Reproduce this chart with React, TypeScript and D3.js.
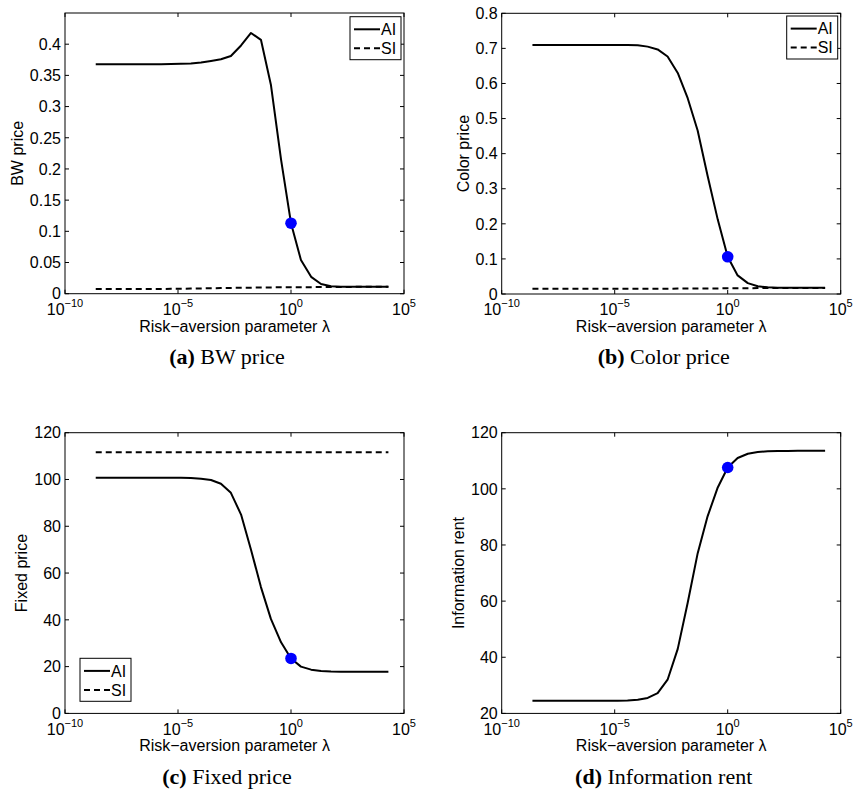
import React from 'react'
import * as d3 from 'd3'

// lambda grid, as log10 exponents
const lambdaExp = [-8.64, -8.41, -7.97, -7.52, -7.08, -6.64, -6.20, -5.75, -5.31, -4.87, -4.43, -3.98, -3.54, -3.10, -2.66, -2.21, -1.77, -1.33, -0.89, -0.44, 0, 0.44, 0.89, 1.33, 1.77, 2.21, 2.66, 3.10, 3.54, 3.98, 4.31]

const bwAI = [0.368, 0.368, 0.368, 0.368, 0.368, 0.368, 0.368, 0.368, 0.3682, 0.3685, 0.369, 0.3705, 0.373, 0.3758, 0.381, 0.398, 0.418, 0.407, 0.335, 0.215, 0.113, 0.054, 0.027, 0.0155, 0.012, 0.0112, 0.011, 0.011, 0.011, 0.011, 0.011]
const bwSI = [0.0075, 0.0075, 0.0075, 0.0075, 0.0075, 0.0075, 0.0075, 0.0075, 0.0078, 0.008, 0.0082, 0.0085, 0.0088, 0.009, 0.0093, 0.0095, 0.0097, 0.0099, 0.0101, 0.0102, 0.0103, 0.0104, 0.0105, 0.0106, 0.0107, 0.0108, 0.0109, 0.011, 0.011, 0.011, 0.011]

const colorAI = [0.71, 0.71, 0.71, 0.71, 0.71, 0.71, 0.71, 0.71, 0.71, 0.71, 0.71, 0.709, 0.705, 0.697, 0.677, 0.63, 0.558, 0.466, 0.337, 0.212, 0.106, 0.053, 0.031, 0.022, 0.019, 0.018, 0.018, 0.018, 0.018, 0.018, 0.018]
const colorSI = [0.015, 0.015, 0.015, 0.015, 0.015, 0.015, 0.015, 0.015, 0.015, 0.015, 0.015, 0.015, 0.015, 0.015, 0.0152, 0.0154, 0.0156, 0.0158, 0.016, 0.016, 0.0162, 0.0164, 0.0166, 0.0168, 0.017, 0.017, 0.017, 0.017, 0.017, 0.017, 0.017]

const fixedAI = [100.7, 100.7, 100.7, 100.7, 100.7, 100.7, 100.7, 100.7, 100.7, 100.7, 100.6, 100.3, 99.8, 98.2, 94.3, 85, 70, 54, 40.4, 30.4, 23.5, 20.0, 18.7, 18.1, 17.9, 17.8, 17.8, 17.8, 17.8, 17.8, 17.8]
const fixedSI = [111.6, 111.6, 111.6, 111.6, 111.6, 111.6, 111.6, 111.6, 111.6, 111.6, 111.6, 111.6, 111.6, 111.6, 111.6, 111.6, 111.6, 111.6, 111.6, 111.6, 111.6, 111.6, 111.6, 111.6, 111.6, 111.6, 111.6, 111.6, 111.6, 111.6, 111.6]

const rentAI = [24.5, 24.5, 24.5, 24.5, 24.5, 24.5, 24.5, 24.5, 24.5, 24.5, 24.6, 24.9, 25.5, 27.2, 32, 43, 59.4, 77, 90.2, 100.5, 107.6, 111, 112.5, 113.1, 113.4, 113.5, 113.5, 113.6, 113.6, 113.6, 113.6]

// blue marker at lambda = 1
const markerLambda = 1
const markerValues = [0.113, 0.106, 23.5, 107.6]

const xTickExp = [-10, -5, 0, 5]
const bwTicks = [0, 0.05, 0.1, 0.15, 0.2, 0.25, 0.3, 0.35, 0.4]
const colorTicks = [0, 0.1, 0.2, 0.3, 0.4, 0.5, 0.6, 0.7, 0.8]
const fixedTicks = [0, 20, 40, 60, 80, 100, 120]
const rentTicks = [20, 40, 60, 80, 100, 120]

const sans = '"Liberation Sans", Arial, sans-serif'
const serif = '"Liberation Serif", "Times New Roman", serif'

const PW = 339
const PH = 280.7

const Panel = (props) => {
    const x = d3.scaleLog().domain([1e-10, 1e5]).range([0, PW])
    const y = d3.scaleLinear().domain(props.yDomain).range([PH, 0])
    const lam = lambdaExp.map(e => Math.pow(10, e))

    const linea = d3.line()
        .x(d => x(d[0]))
        .y(d => y(d[1]))

    const fmt = v => String(+v.toFixed(2))

    return (
        <g transform={`translate(${props.left},${props.top})`}>
            {/* series */}
            {props.si && (
                <path d={linea(props.si.map((v, i) => [lam[i], v]))} fill="none" stroke="#000" strokeWidth={2} strokeDasharray="6,4" />
            )}
            <path d={linea(props.ai.map((v, i) => [lam[i], v]))} fill="none" stroke="#000" strokeWidth={2} strokeLinejoin="round" />
            <circle cx={x(markerLambda)} cy={y(props.dot)} r={5.8} fill="#0000ff" />

            {/* box */}
            <rect x={0} y={0} width={PW} height={PH} fill="none" stroke="#000" strokeWidth={1} />

            {xTickExp.map(e => (
                <g key={'x' + e}>
                    <line x1={x(Math.pow(10, e))} x2={x(Math.pow(10, e))} y1={PH} y2={PH - 4} stroke="#000" />
                    <line x1={x(Math.pow(10, e))} x2={x(Math.pow(10, e))} y1={0} y2={4} stroke="#000" />
                    <text x={x(Math.pow(10, e))} y={PH + 21.5} textAnchor="middle" fontFamily={sans} fontSize={16}>
                        10<tspan dy={-8} fontSize={11}>{e < 0 ? '\u2212' + (-e) : e}</tspan>
                    </text>
                </g>
            ))}

            {props.yTicks.map(t => (
                <g key={'y' + t}>
                    <line x1={0} x2={4} y1={y(t)} y2={y(t)} stroke="#000" />
                    <line x1={PW} x2={PW - 4} y1={y(t)} y2={y(t)} stroke="#000" />
                    <text x={-4} y={y(t)} dy="0.36em" textAnchor="end" fontFamily={sans} fontSize={16}>{fmt(t)}</text>
                </g>
            ))}

            <text x={PW / 2} y={PH + 38} textAnchor="middle" fontFamily={sans} fontSize={16}>
                Risk{'\u2212'}aversion parameter {'\u03bb'}
            </text>
            <text transform={`translate(${props.yLabelX},${PH / 2}) rotate(-90)`} textAnchor="middle" fontFamily={sans} fontSize={16}>
                {props.yLabel}
            </text>

            {props.legend && (
                <g transform={`translate(${props.legend[0]},${props.legend[1]})`}>
                    <rect x={0} y={0} width={51} height={43} fill="#fff" stroke="#000" strokeWidth={1} />
                    <line x1={4} x2={30} y1={12.6} y2={12.6} stroke="#000" strokeWidth={2} />
                    <text x={31} y={12.6} dy="0.36em" fontFamily={sans} fontSize={16}>AI</text>
                    <line x1={4} x2={30} y1={31.6} y2={31.6} stroke="#000" strokeWidth={2} strokeDasharray="6,4" />
                    <text x={31} y={31.6} dy="0.36em" fontFamily={sans} fontSize={16}>SI</text>
                </g>
            )}

            <text x={props.capX} y={PH + 70.5} textAnchor="middle" fontFamily={serif} fontSize={22}>
                <tspan fontWeight="bold">({props.tag})</tspan> {props.caption}
            </text>
        </g>
    )
}

const App = () => {
    return (
        <svg width={854} height={794} style={{ position: 'absolute', left: 0, top: 0, background: '#fff' }}>
            <Panel left={65} top={13} yDomain={[0, 0.45]} yTicks={bwTicks} yLabel="BW price" yLabelX={-42}
                ai={bwAI} si={bwSI} dot={markerValues[0]} legend={[285, 3.7]} capX={162} tag="a" caption="BW price" />
            <Panel left={501.7} top={13.3} yDomain={[0, 0.8]} yTicks={colorTicks} yLabel="Color price" yLabelX={-32.7}
                ai={colorAI} si={colorSI} dot={markerValues[1]} legend={[285, 2.7]} capX={162} tag="b" caption="Color price" />
            <Panel left={65} top={432.7} yDomain={[0, 120]} yTicks={fixedTicks} yLabel="Fixed price" yLabelX={-38}
                ai={fixedAI} si={fixedSI} dot={markerValues[2]} legend={[15, 225.6]} capX={162} tag="c" caption="Fixed price" />
            <Panel left={501.7} top={432.7} yDomain={[20, 120]} yTicks={rentTicks} yLabel="Information rent" yLabelX={-37.7}
                ai={rentAI} dot={markerValues[3]} legend={null} capX={162} tag="d" caption="Information rent" />
        </svg>
    )
}

export default App
